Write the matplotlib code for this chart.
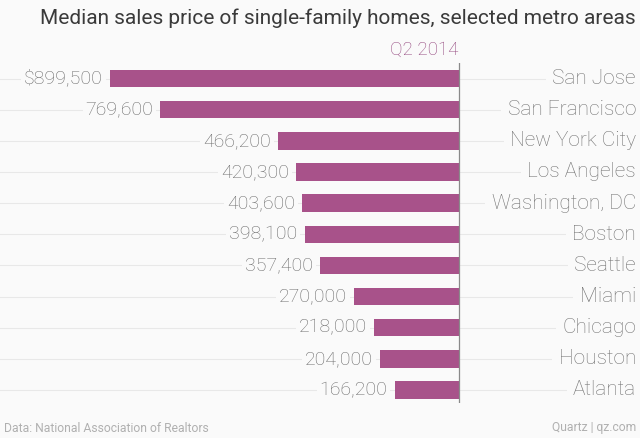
import matplotlib.pyplot as plt
import numpy as np

plt.rcParams['font.family'] = ['Roboto', 'DejaVu Sans']

# data: median sales price, Q2 2014
cities = ['San Jose', 'San Francisco', 'New York City', 'Los Angeles', 'Washington, DC',
          'Boston', 'Seattle', 'Miami', 'Chicago', 'Houston', 'Atlanta']
prices = [899500, 769600, 466200, 420300, 403600, 398100, 357400, 270000, 218000, 204000, 166200]
value_labels = ['$899,500', '769,600', '466,200', '420,300', '403,600', '398,100',
                '357,400', '270,000', '218,000', '204,000', '166,200']
series_name = 'Q2 2014'

bg = '#fafafa'
bar_color = '#a8528a'
W, H = 640, 438

fig = plt.figure(figsize=(6.4, 4.38), dpi=100, facecolor=bg)
# axes covers full width; zero sits at x=459px and values grow to the left
ax = fig.add_axes([0, 1 - 403 / H, 1, (403 - 63) / H])
ax.set_facecolor(bg)
px = 0.000388  # pixels per dollar
ax.set_xlim(459 / px, -(W - 459) / px)
y = np.arange(len(cities))
ax.set_ylim(10.42, -0.5)

for yy in y:
    ax.axhline(yy, color='#e8e8e8', lw=0.8, zorder=0)

ax.barh(y, prices, height=0.56, color=bar_color, zorder=2)
ax.axvline(0, color='#8a8a8a', lw=0.9, zorder=3)

for yy, v, lab in zip(y, prices, value_labels):
    ax.text(v + 7 / px, yy, lab, ha='right', va='center', fontsize=14, color='#6a6a6a',
            fontweight='light', zorder=4,
            bbox=dict(boxstyle='square,pad=0.15', fc=bg, ec='none'))

for yy, name in zip(y, cities):
    ax.text(636 / W, yy, name, transform=ax.get_yaxis_transform(), ha='right', va='center',
            fontsize=15, color='#737373', fontweight='light', zorder=4,
            bbox=dict(boxstyle='square,pad=0.3', fc=bg, ec='none'))

ax.axis('off')

fig.text(636 / W, 1 - 18 / H, 'Median sales price of single-family homes, selected metro areas',
         ha='right', va='center', fontsize=15, color='#3a3a3a')
fig.text(458 / W, 1 - 50 / H, series_name, ha='right', va='center', fontsize=13.5,
         color='#94487f', fontweight='light')
fig.text(636 / W, 1 - 428 / H, 'Quartz | qz.com', ha='right', va='center', fontsize=8.7,
         color='#b0b0b0')
fig.text(4 / W, 1 - 428 / H, 'Data: National Association of Realtors', ha='left', va='center',
         fontsize=8.7, color='#b0b0b0')

fig.savefig('out.png', dpi=100, facecolor=bg)
